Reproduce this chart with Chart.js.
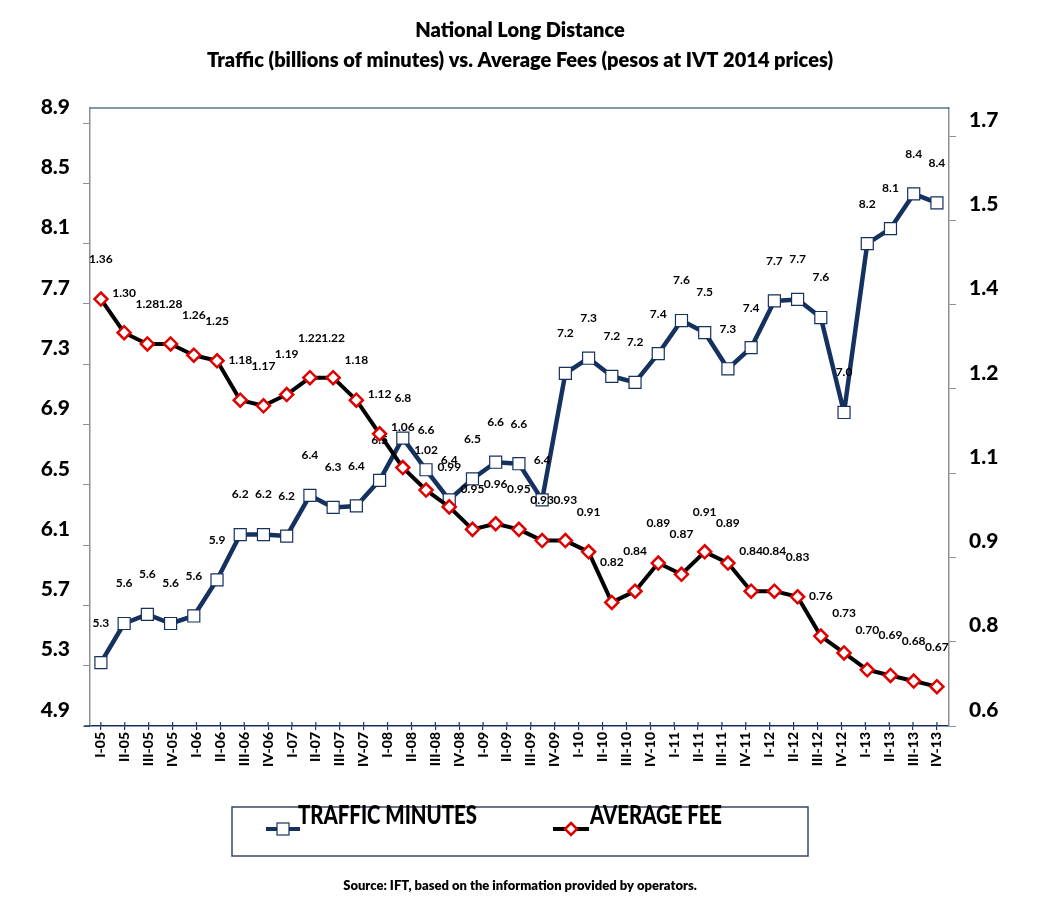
<!DOCTYPE html>
<html>
<head>
<meta charset="utf-8">
<title>National Long Distance</title>
<script src="https://cdn.jsdelivr.net/npm/chart.js@4.4.1/dist/chart.umd.min.js"></script>
<style>
    html, body { margin: 0; padding: 0; background: #fff; }
    #wrap { width: 1045px; height: 907px; }
</style>
</head>
<body>
<div id="wrap"><canvas id="lineChart" width="1045" height="907"></canvas></div>
<script>
// x axis labels (36 quarters, spread over the same width as the 37 points)
const quarters = [
    'I-05', 'II-05', 'III-05', 'IV-05', 'I-06', 'II-06', 'III-06', 'IV-06',
    'I-07', 'II-07', 'III-07', 'IV-07', 'I-08', 'II-08', 'III-08', 'IV-08',
    'I-09', 'II-09', 'III-09', 'IV-09', 'I-10', 'II-10', 'III-10', 'IV-10',
    'I-11', 'II-11', 'III-11', 'IV-11', 'I-12', 'II-12', 'III-12', 'IV-12',
    'I-13', 'II-13', 'III-13', 'IV-13'
];

// Traffic, billions of minutes (left axis)
const trafficMinutes = [
    5.32, 5.58, 5.64, 5.58, 5.63, 5.87, 6.17, 6.17, 6.16, 6.43,
    6.35, 6.36, 6.53, 6.81, 6.60, 6.40, 6.54, 6.65, 6.64, 6.40,
    7.24, 7.34, 7.22, 7.18, 7.37, 7.59, 7.51, 7.27, 7.41, 7.72,
    7.73, 7.61, 6.98, 8.10, 8.20, 8.43, 8.37
];
const trafficLabels = [
    '5.3', '5.6', '5.6', '5.6', '5.6', '5.9', '6.2', '6.2', '6.2', '6.4',
    '6.3', '6.4', '6.5', '6.8', '6.6', '6.4', '6.5', '6.6', '6.6', '6.4',
    '7.2', '7.3', '7.2', '7.2', '7.4', '7.6', '7.5', '7.3', '7.4', '7.7',
    '7.7', '7.6', '7.0', '8.2', '8.1', '8.4', '8.4'
];

// Average fee, pesos at IVT 2014 prices (right axis)
const averageFee = [
    1.36, 1.30, 1.28, 1.28, 1.26, 1.25, 1.18, 1.17, 1.19, 1.22,
    1.22, 1.18, 1.12, 1.06, 1.02, 0.99, 0.95, 0.96, 0.95, 0.93,
    0.93, 0.91, 0.82, 0.84, 0.89, 0.87, 0.91, 0.89, 0.84, 0.84,
    0.83, 0.76, 0.73, 0.70, 0.69, 0.68, 0.67
];

// axis tick labels as printed
const leftTickLabels = ['4.9', '5.3', '5.7', '6.1', '6.5', '6.9', '7.3', '7.7', '8.1', '8.5', '8.9'];
const rightTickLabels = ['0.6', '0.8', '0.9', '1.1', '1.2', '1.4', '1.5', '1.7'];
const rightStep = 0.15;

const NAVY = '#15315f';
const RED = '#e00000';
const AXIS_GRAY = '#8a8f9c';
const FONT = 'Lato, "Open Sans", sans-serif';

Chart.defaults.font.family = FONT;

// Function to draw heavy text squeezed to a given width
function fitText(ctx, text, x, y, size, width, align, weight = 'bold') {
    ctx.font = `${weight} ${size}px ${FONT}`;
    ctx.textAlign = align;
    ctx.textBaseline = 'middle';
    ctx.fillStyle = '#000';
    ctx.fillText(text, x, y, width);
}

// Value labels above every point
const pointLabels = {
    id: 'pointLabels',
    afterDatasetDraw(chart, args) {
        const ctx = chart.ctx;
        const texts = args.index === 0 ? averageFee.map(v => v.toFixed(2)) : trafficLabels;
        ctx.save();
        ctx.font = `bold 12px ${FONT}`;
        ctx.textAlign = 'center';
        ctx.textBaseline = 'middle';
        ctx.fillStyle = '#000';
        args.meta.data.forEach((pt, i) => {
            ctx.fillText(texts[i], pt.x, pt.y - 40);
        });
        ctx.restore();
    }
};

// Title, frame, legend and source note
const decorations = {
    id: 'decorations',
    beforeDatasetsDraw(chart) {
        const { ctx, chartArea } = chart;
        const x = chart.scales.x;
        ctx.save();
        // top border of the plot area
        ctx.strokeStyle = NAVY;
        ctx.lineWidth = 1.2;
        ctx.beginPath();
        ctx.moveTo(chartArea.left, chartArea.top);
        ctx.lineTo(chartArea.right, chartArea.top);
        ctx.stroke();
        // x axis runs a little past the left axis, ticks cross it
        ctx.lineWidth = 1.5;
        ctx.beginPath();
        ctx.moveTo(chartArea.left - 6, chartArea.bottom);
        ctx.lineTo(chartArea.left, chartArea.bottom);
        ctx.stroke();
        ctx.lineWidth = 1.2;
        x.ticks.forEach(t => {
            const px = x.getPixelForValue(t.value);
            ctx.beginPath();
            ctx.moveTo(px, chartArea.bottom - 4);
            ctx.lineTo(px, chartArea.bottom);
            ctx.stroke();
        });
        ctx.restore();
    },
    afterDraw(chart) {
        const ctx = chart.ctx;
        ctx.save();
        fitText(ctx, 'National Long Distance', 520, 31, 20, 226, 'center', 800);
        fitText(ctx, 'Traffic (billions of minutes) vs. Average Fees (pesos at IVT 2014 prices)', 520, 61, 20, 684, 'center', 800);

        // legend box
        ctx.strokeStyle = '#3a4660';
        ctx.lineWidth = 1.5;
        ctx.strokeRect(232, 807, 576, 49);

        // traffic sample
        ctx.strokeStyle = NAVY;
        ctx.lineWidth = 4;
        ctx.beginPath();
        ctx.moveTo(266, 829);
        ctx.lineTo(300, 829);
        ctx.stroke();
        ctx.fillStyle = '#fff';
        ctx.lineWidth = 1.2;
        ctx.fillRect(277, 823, 12, 12);
        ctx.strokeRect(277, 823, 12, 12);

        // fee sample
        ctx.strokeStyle = '#000';
        ctx.lineWidth = 4;
        ctx.beginPath();
        ctx.moveTo(553, 829);
        ctx.lineTo(589, 829);
        ctx.stroke();
        ctx.beginPath();
        ctx.moveTo(571, 823);
        ctx.lineTo(577, 829);
        ctx.lineTo(571, 835);
        ctx.lineTo(565, 829);
        ctx.closePath();
        ctx.fillStyle = '#fff';
        ctx.fill();
        ctx.strokeStyle = RED;
        ctx.lineWidth = 2.5;
        ctx.stroke();

        ctx.font = `900 26px ${FONT}`;
        ctx.textAlign = 'left';
        ctx.textBaseline = 'alphabetic';
        ctx.fillStyle = '#000';
        ctx.fillText('TRAFFIC MINUTES', 298, 824, 179);
        ctx.fillText('AVERAGE FEE', 590, 824, 132);

        fitText(ctx, 'Source: IFT, based on the information provided by operators.', 520, 886, 13, 398, 'center', 800);
        ctx.restore();
    }
};

const trafficPoints = trafficMinutes.map((v, i) => ({ x: i, y: v }));
const feePoints = averageFee.map((v, i) => ({ x: i, y: v }));

const lineChart = new Chart(document.getElementById('lineChart'), {
    type: 'line',
    data: {
        datasets: [
            {
                label: 'AVERAGE FEE',
                data: feePoints,
                yAxisID: 'y2',
                borderColor: '#000',
                borderWidth: 4,
                borderJoinStyle: 'round',
                tension: 0,
                pointStyle: 'rectRot',
                pointRadius: 6.5,
                pointBorderWidth: 2.5,
                pointBorderColor: RED,
                pointBackgroundColor: '#fff'
            },
            {
                label: 'TRAFFIC MINUTES',
                data: trafficPoints,
                yAxisID: 'y',
                borderColor: NAVY,
                borderWidth: 4.5,
                borderJoinStyle: 'round',
                tension: 0,
                pointStyle: 'rect',
                pointRadius: 8.5,
                pointBorderWidth: 1.2,
                pointBorderColor: NAVY,
                pointBackgroundColor: '#fff'
            }
        ]
    },
    options: {
        responsive: false,
        animation: false,
        layout: { padding: { top: 108, left: 0, right: 0, bottom: 0 } },
        plugins: {
            legend: { display: false },
            title: { display: false },
            tooltip: { enabled: false }
        },
        scales: {
            x: {
                type: 'linear',
                min: -0.47,
                max: 36.52,
                afterBuildTicks: s => {
                    s.ticks = quarters.map((q, i) => ({ value: i * 36 / 35 }));
                },
                afterFit: s => { s.height = 181; },
                ticks: {
                    autoSkip: false,
                    minRotation: 90,
                    maxRotation: 90,
                    padding: 2,
                    color: '#000',
                    font: { size: 14, weight: 900 },
                    callback: (v, i) => quarters[i]
                },
                grid: { drawOnChartArea: false, tickLength: 4, color: NAVY, lineWidth: 1.2 },
                border: { display: true, color: NAVY, width: 1.5 }
            },
            y: {
                position: 'left',
                min: 4.9,
                max: 9.0,
                afterBuildTicks: s => {
                    s.ticks = leftTickLabels.map(t => ({ value: parseFloat(t) }));
                },
                afterFit: s => { s.width = 90; },
                ticks: {
                    autoSkip: false,
                    padding: 13,
                    labelOffset: -16,
                    color: '#000',
                    font: { size: 21, weight: 900 },
                    callback: (v, i) => leftTickLabels[i]
                },
                grid: { drawOnChartArea: false, tickLength: 7, color: AXIS_GRAY },
                border: { display: true, color: AXIS_GRAY, width: 1.5 }
            },
            y2: {
                position: 'right',
                min: 0.6,
                max: 1.7,
                afterBuildTicks: s => {
                    s.ticks = rightTickLabels.map((t, i) => ({ value: 0.6 + i * rightStep }));
                },
                afterFit: s => { s.width = 96; },
                ticks: {
                    autoSkip: false,
                    padding: 13,
                    labelOffset: -16,
                    color: '#000',
                    font: { size: 21, weight: 900 },
                    callback: (v, i) => rightTickLabels[i]
                },
                grid: { drawOnChartArea: false, tickLength: 7, color: AXIS_GRAY },
                border: { display: true, color: AXIS_GRAY, width: 1.5 }
            }
        }
    },
    plugins: [pointLabels, decorations]
});
</script>
</body>
</html>
